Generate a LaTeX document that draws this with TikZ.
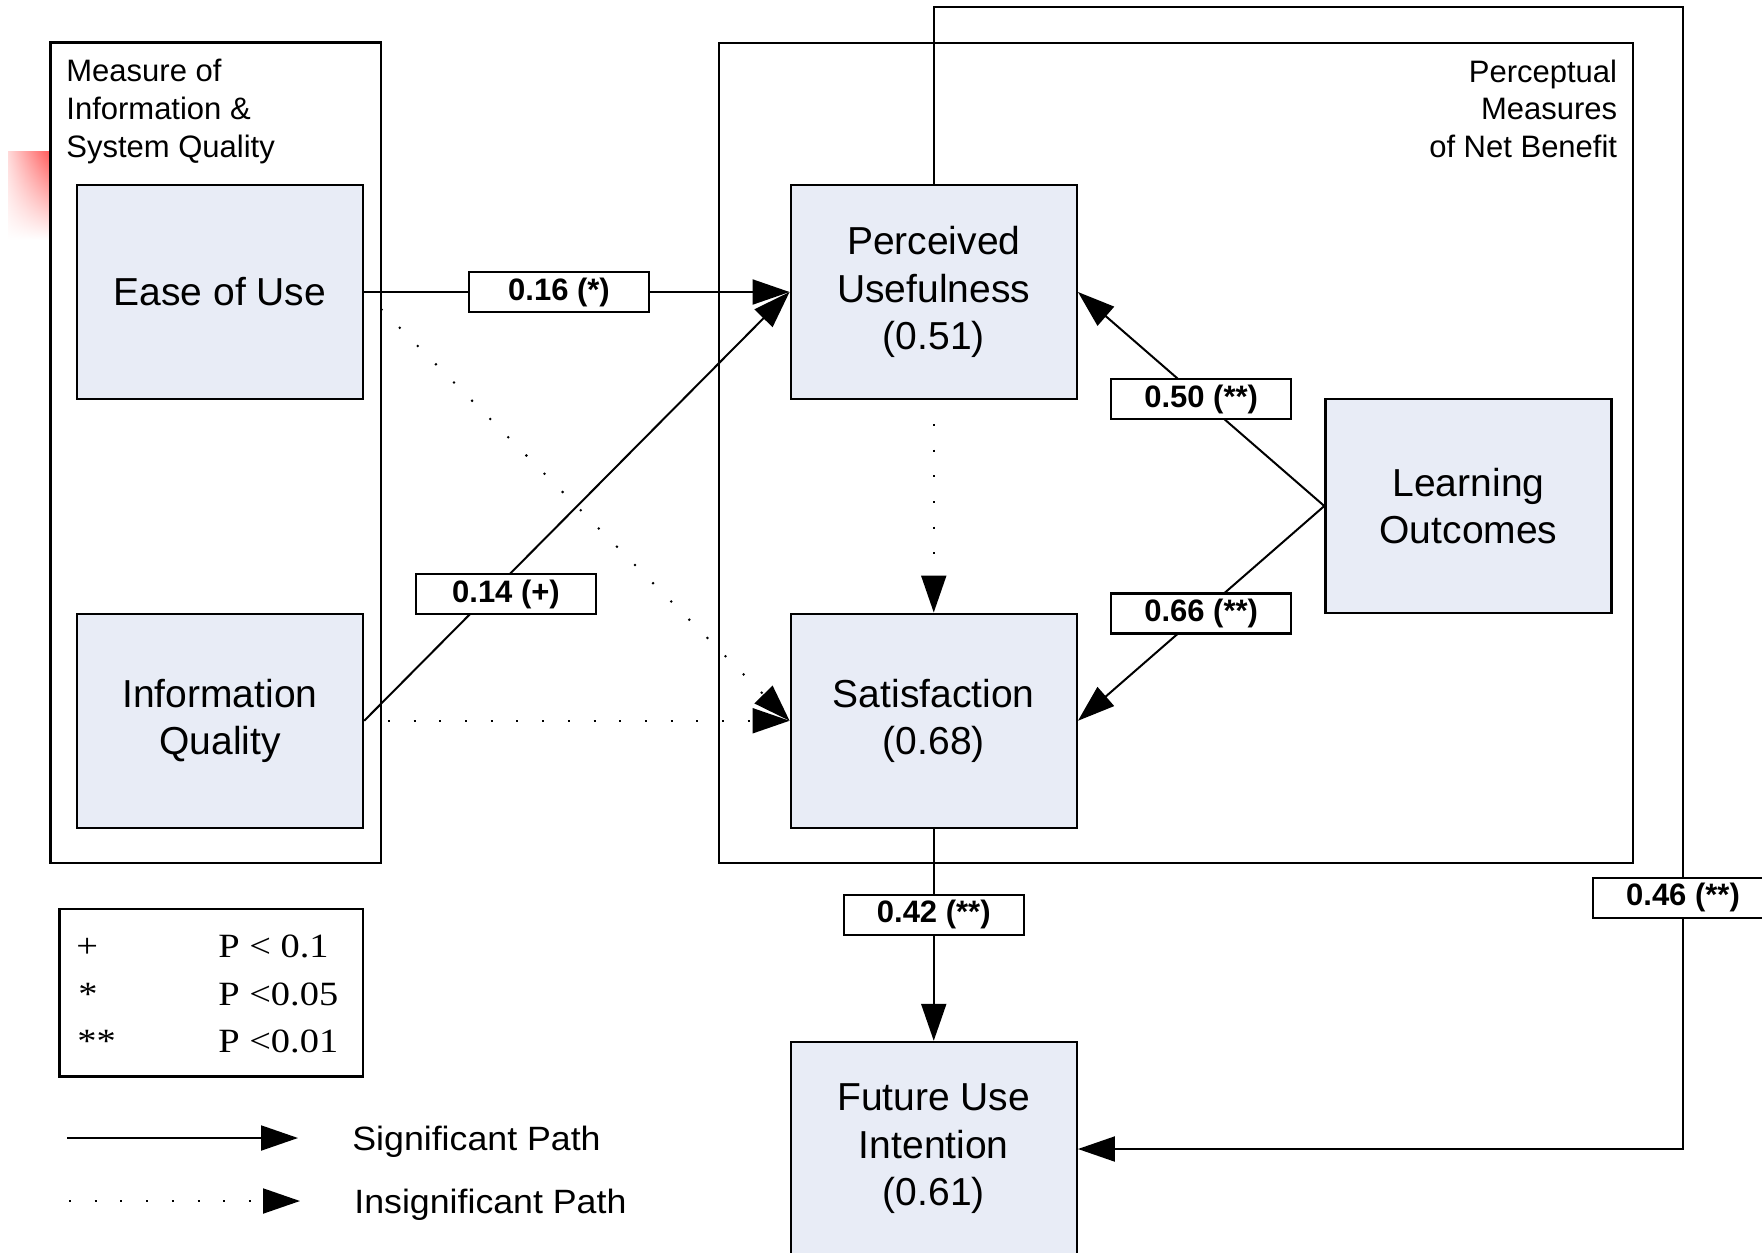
\documentclass[tikz,border=0pt]{standalone}
\usepackage{fontspec}
\setmainfont{Liberation Sans}
\newfontfamily\legendserif[FakeStretch=1.13]{Liberation Serif}
\newfontfamily\legendsans[FakeStretch=1.06]{Liberation Sans}
\usetikzlibrary{arrows.meta,shadings}
\definecolor{boxfill}{RGB}{232,236,246}

\tikzset{
  construct/.style={draw, line width=1.2pt, fill=boxfill, minimum width=143pt,
    minimum height=107pt, align=center, inner sep=0pt,
    font=\fontsize{19.5pt}{23.75pt}\selectfont},
  grp/.style={draw, line width=1.2pt},
  lbl/.style={draw, fill=white, line width=1.2pt, minimum width=90pt,
    minimum height=20pt, inner sep=0pt,
    font=\fontsize{15.5pt}{18pt}\selectfont\bfseries},
  tip/.style={-{Triangle[length=18.5pt,width=12.5pt]}},
  sig/.style={line width=1pt, tip},
  insig/.style={line width=1pt, dash pattern=on 1pt off 11.85pt, dash phase=1pt, tip},
  grouptitle/.style={inner sep=0pt, font=\fontsize{15.5pt}{18.85pt}\selectfont},
  pval/.style={anchor=base west, inner sep=0pt, font=\legendserif\fontsize{17pt}{20pt}\selectfont},
  keytext/.style={anchor=base west, inner sep=0pt, font=\legendsans\fontsize{16.85pt}{20pt}\selectfont},
}

\begin{document}
\begin{tikzpicture}[x=0.5pt, y=-0.5pt]
\useasboundingbox (0,0) rectangle (1762,1253);
\fill[white] (0,0) rectangle (1762,1253);
\clip (0,0) rectangle (1762,1253);

% faint red mark at the left margin
\shade[upper left=red!15, upper right=red!65, lower left=white, lower right=white]
  (8,151) rectangle (50,240);

% group frames
\draw[grp] (50.5,42.5) rectangle (381,863);
\draw[grp] (719,43) rectangle (1633,863);
\node[grouptitle, anchor=base west] (systitle) at (66,81.7)
  {\begin{tabular}[t]{@{}l@{}}Measure of\\Information \&\\System Quality\end{tabular}};
\node[grouptitle, anchor=base east] (nettitle) at (1617.5,82)
  {\begin{tabular}[t]{@{}r@{}}Perceptual\\Measures\\of Net Benefit\end{tabular}};

% constructs
\node[construct] (ease) at (220,292) {Ease of Use};
\node[construct] (iq) at (220,720.75) {Information\\Quality};
\node[construct] (pu) at (933.75,292) {Perceived\\Usefulness\\(0.51)};
\node[construct] (sat) at (933.75,720.75) {Satisfaction\\(0.68)};
\node[construct] (lo) at (1468.5,506) {Learning\\Outcomes};
\node[construct] (fui) at (933.75,1149) {Future Use\\Intention\\(0.61)};

% insignificant paths
\draw[insig] (ease.east) -- (sat.west);
\draw[insig] (iq.east) -- (sat.west);
\draw[insig] (pu.south) -- (sat.north);

% significant paths
\draw[sig] (iq.east) -- (pu.west);
\node[lbl] (l14) at (506,594) {0.14 (+)};
\draw[sig] (ease.east) -- node[lbl, pos=0.458] (l16) {0.16 (*)} (pu.west);
\draw[sig] (lo.west) -- node[lbl, pos=0.5] (l50) {0.50 (**)} (pu.east);
\draw[sig] (lo.west) -- node[lbl, pos=0.5] (l66) {0.66 (**)} (sat.east);
\draw[sig] (sat.south) -- node[lbl, pos=0.405] (l42) {0.42 (**)} (fui.north);

\coordinate (looptop) at (1683,7);
\coordinate (loopbottom) at (1683,1149);
\draw[sig] (pu.north) |- (looptop) -- node[lbl, pos=0.78] (l46) {0.46 (**)} (loopbottom) -- (fui.east);

% legend
\draw[grp] (59.6,909) rectangle (363,1076.5);
\node[pval] (s1) at (76,957.3) {+};
\node[pval] (s2) at (78,1005) {*};
\node[pval] (s3) at (77,1052.7) {**};
\node[pval] (p1) at (218,957.3) {P < 0.1};
\node[pval] (p2) at (218,1005) {P <0.05};
\node[pval] (p3) at (218,1052.7) {P <0.01};

\coordinate (sigA) at (67,1138);
\coordinate (sigB) at (298,1138);
\coordinate (insA) at (69,1201);
\coordinate (insB) at (300,1201);
\draw[sig] (sigA) -- (sigB);
\draw[insig, dash phase=0pt] (insA) -- (insB);
\node[keytext] (sigtxt) at (352,1150) {Significant Path};
\node[keytext] (instxt) at (354,1213) {Insignificant Path};
\end{tikzpicture}
\end{document}
